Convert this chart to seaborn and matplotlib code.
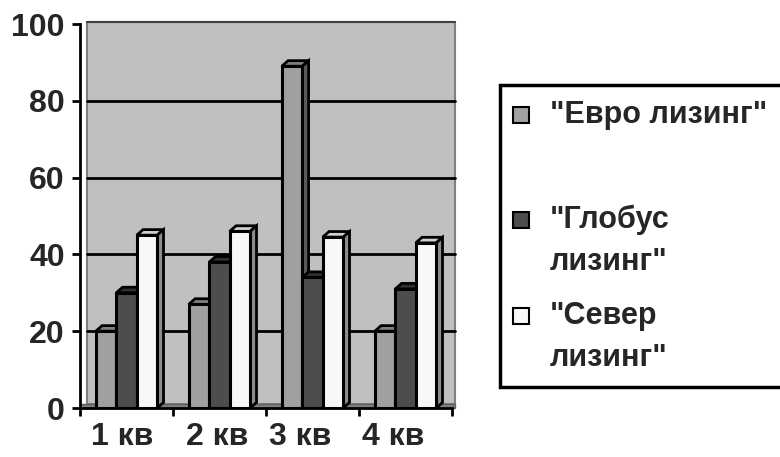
import matplotlib
matplotlib.use("Agg")
import matplotlib.pyplot as plt
from matplotlib.patches import Polygon, Rectangle
import seaborn as sns
import pandas as pd

# данные с графика
quarters = ['1 кв', '2 кв', '3 кв', '4 кв']
series = ['"Евро лизинг"', '"Глобус лизинг"', '"Север лизинг"']
legend_labels = ['"Евро лизинг"', '"Глобус\nлизинг"', '"Север\nлизинг"']
euro = [20, 27, 89, 20]
globus = [30, 38, 34, 31]
sever = [45, 46, 44.5, 43]

front_colors = ['#a0a0a0', '#4d4d4d', '#f8f8f8']
top_colors = ['#808080', '#303030', '#d0d0d0']
side_colors = ['#5a5a5a', '#2a2a2a', '#8c8c8c']

rows = []
for name, vals in zip(series, [euro, globus, sever]):
    for q, v in zip(quarters, vals):
        rows.append({'quarter': q, 'series': name, 'value': v})
df = pd.DataFrame(rows)

sns.set_style('white')
plt.rcParams['font.family'] = ['Liberation Sans', 'DejaVu Sans']
plt.rcParams['font.weight'] = 'bold'
FS = 23

fig = plt.figure(figsize=(7.8, 4.57), dpi=100)
ax = fig.add_axes([80 / 780, 49 / 457, 372 / 780, 384 / 457])
ax.set_facecolor('white')

# задняя стенка
ax.add_patch(Rectangle((0.019, 0.01), 0.99, 0.995, transform=ax.transAxes,
                       facecolor='#c0c0c0', edgecolor='#808080', lw=1.5,
                       zorder=0, clip_on=False))
ax.add_patch(Rectangle((0.0, 0.0), 1.008, 0.01, transform=ax.transAxes,
                       facecolor='#808080', edgecolor='#606060', lw=1,
                       zorder=0.5, clip_on=False))

for yv in [20, 40, 60, 80]:
    ax.axhline(yv, xmin=0.019, xmax=1.008, color='black', lw=2, zorder=1,
               clip_on=False)
ax.plot([0.019, 1.008], [1.005, 1.005], transform=ax.transAxes, color='#404040',
        lw=1.5, zorder=1, clip_on=False)

sns.barplot(data=df, x='quarter', y='value', hue='series', order=quarters,
            hue_order=series, palette=front_colors, width=0.66, saturation=1,
            edgecolor='black', linewidth=2.2, legend=False, ax=ax)

# 3D грани
dx, dy = 0.068, 1.45
bars = []
for idx, cont in enumerate(ax.containers):
    for p in cont.patches:
        bars.append((p, idx))
bars = sorted(bars, key=lambda t: t[0].get_x())
for i, (p, idx) in enumerate(bars):
    x, w, h = p.get_x(), p.get_width(), p.get_height()
    z = 2 + i
    p.set_zorder(z + 0.5)
    top = Polygon([(x, h), (x + dx, h + dy), (x + w + dx, h + dy), (x + w, h)],
                  closed=True, facecolor=top_colors[idx], edgecolor='black',
                  lw=2.0, zorder=z)
    side = Polygon([(x + w, 0), (x + w, h), (x + w + dx, h + dy), (x + w + dx, dy)],
                   closed=True, facecolor=side_colors[idx], edgecolor='black',
                   lw=2.0, zorder=z)
    ax.add_patch(top)
    ax.add_patch(side)

ax.set_xlim(-0.5, 3.5)
ax.set_ylim(0, 100)
ax.set_yticks([0, 20, 40, 60, 80, 100])
ax.set_xlabel('')
ax.set_ylabel('')
ax.set_xticks([-0.05, 0.97, 1.87, 2.87])
ax.set_xticklabels(quarters)
ax.set_xticks([-0.5, 0.5, 1.5, 2.5, 3.5], minor=True)
ax.tick_params(axis='x', which='major', length=0, labelsize=FS, pad=10)
ax.tick_params(axis='x', which='minor', length=6, width=2, direction='out',
               color='black', bottom=True)
ax.tick_params(axis='y', length=6, width=2, direction='out', color='black',
               labelsize=FS, pad=5, left=True)
for lab in ax.get_xticklabels() + ax.get_yticklabels():
    lab.set_fontweight('bold')

for s in ['top', 'right']:
    ax.spines[s].set_visible(False)
ax.spines['left'].set_linewidth(2)
ax.spines['bottom'].set_linewidth(2)
ax.spines['left'].set_color('black')
ax.spines['bottom'].set_color('black')

# легенда как в Excel
fig.patches.append(Rectangle((500 / 780, 1 - 387 / 457), 300 / 780, 302 / 457,
                             transform=fig.transFigure, facecolor='white',
                             edgecolor='black', lw=2.5, zorder=5))
entry_y = [115, 220, 316]
for lab, col, yy in zip(legend_labels, front_colors, entry_y):
    fy = 1 - yy / 457
    fig.patches.append(Rectangle((513 / 780, fy - 8 / 457), 16 / 780, 16 / 457,
                                 transform=fig.transFigure, facecolor=col,
                                 edgecolor='black', lw=1.5, zorder=6))
    fig.text(550 / 780, fy + 15 / 457, lab, fontsize=22, fontweight='bold',
             va='top', ha='left', linespacing=1.5, zorder=7)

fig.savefig('out.png', dpi=100)
